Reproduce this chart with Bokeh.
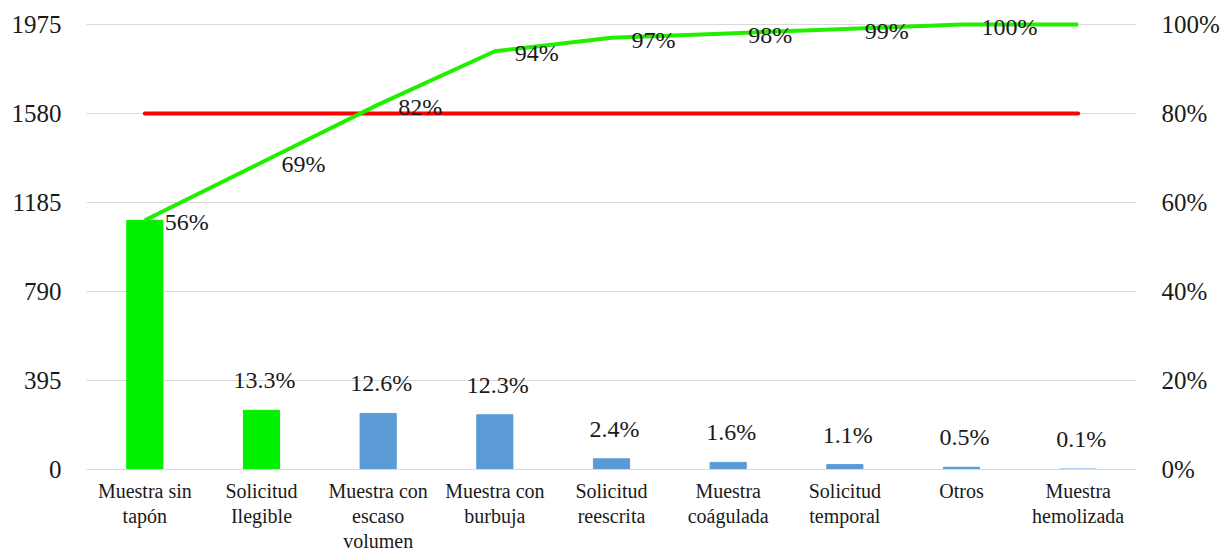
from bokeh.plotting import figure
from bokeh.models import Range1d, LinearAxis, FixedTicker, FactorRange
from bokeh.embed import file_html
from bokeh.resources import INLINE
from bokeh.core.properties import value

# Causes of pre-analytical rejection (Pareto)
categories = [
    "Muestra sin\ntapón",
    "Solicitud\nIlegible",
    "Muestra con\nescaso\nvolumen",
    "Muestra con\nburbuja",
    "Solicitud\nreescrita",
    "Muestra\ncoágulada",
    "Solicitud\ntemporal",
    "Otros",
    "Muestra\nhemolizada",
]
share_pct = [56, 13.3, 12.6, 12.3, 2.4, 1.6, 1.1, 0.5, 0.1]
cumulative_pct = [56, 69, 82, 94, 97, 98, 99, 100, 100]
total_count = 1975
count_ticks = [0, 395, 790, 1185, 1580, 1975]
pct_ticks = [0, 20, 40, 60, 80, 100]
threshold_pct = 80
highlighted = 2  # leading causes drawn in green

FONT = "'Liberation Serif'"
TEXT = "#1a1a1a"
GREEN_BAR = "#00F000"
BLUE_BAR = "#5B9BD5"
GREEN_LINE = "#22EE00"
RED = "#FF0000"
GRID = "#D9D9D9"

# headroom above the top tick so labels near 100 % are not clipped
HEADROOM = 464 / 445

counts = [v / 100 * total_count for v in share_pct]
colors = [GREEN_BAR if i < highlighted else BLUE_BAR for i in range(len(categories))]

p = figure(
    width=1222, height=555,
    x_range=FactorRange(*categories, range_padding=0),
    y_range=Range1d(0, total_count * HEADROOM),
    output_backend="svg", toolbar_location=None,
    min_border_left=86, min_border_right=85,
    min_border_top=5, min_border_bottom=86,
)
p.extra_y_ranges = {"pct": Range1d(0, 100 * HEADROOM)}
p.outline_line_color = None
p.background_fill_color = "white"
p.border_fill_color = "white"

# bars
p.vbar(x=categories, top=counts, width=0.31, color=colors)

# 80 % reference line
p.line(x=[categories[0], categories[-1]], y=[threshold_pct, threshold_pct],
       y_range_name="pct", line_color=RED, line_width=4, line_cap="round")

# cumulative percentage line
p.line(x=categories, y=cumulative_pct, y_range_name="pct",
       line_color=GREEN_LINE, line_width=4, line_join="round")

# cumulative labels (to the right of each point)
p.text(x=categories[:-1], y=cumulative_pct[:-1], y_range_name="pct",
       text=[f"{v}%" for v in cumulative_pct[:-1]],
       x_offset=20, y_offset=2, text_align="left", text_baseline="middle",
       text_font=value(FONT), text_font_size="24px", text_color=TEXT)

# individual share labels above the bars
p.text(x=categories[1:], y=counts[1:],
       text=[f"{v:.1f}%" for v in share_pct[1:]],
       x_offset=3, y_offset=-30, text_align="center", text_baseline="middle",
       text_font=value(FONT), text_font_size="24px", text_color=TEXT)

# left axis (counts)
ly = p.yaxis[0]
ly.ticker = FixedTicker(ticks=count_ticks)
ly.axis_line_color = None
ly.major_tick_line_color = None
ly.minor_tick_line_color = None
ly.major_label_standoff = 19
ly.major_label_text_font = FONT
ly.major_label_text_font_size = "25px"
ly.major_label_text_color = TEXT

# right axis (percent)
ry = LinearAxis(y_range_name="pct", ticker=FixedTicker(ticks=pct_ticks))
ry.major_label_overrides = {t: f"{t}%" for t in pct_ticks}
ry.axis_line_color = None
ry.major_tick_line_color = None
ry.minor_tick_line_color = None
ry.major_label_standoff = 19
ry.major_label_text_font = FONT
ry.major_label_text_font_size = "25px"
ry.major_label_text_color = TEXT
p.add_layout(ry, "right")

# bottom axis
bx = p.xaxis[0]
bx.axis_line_color = GRID
bx.major_tick_line_color = None
bx.minor_tick_line_color = None
bx.major_label_standoff = 4
bx.major_label_text_font = FONT
bx.major_label_text_font_size = "20px"
bx.major_label_text_color = TEXT
bx.major_label_text_line_height = 1.15

p.xgrid.grid_line_color = None
p.ygrid.ticker = FixedTicker(ticks=count_ticks)
p.ygrid.grid_line_color = GRID
p.ygrid.grid_line_width = 1

open("out.html", "w").write(file_html(p, INLINE))
